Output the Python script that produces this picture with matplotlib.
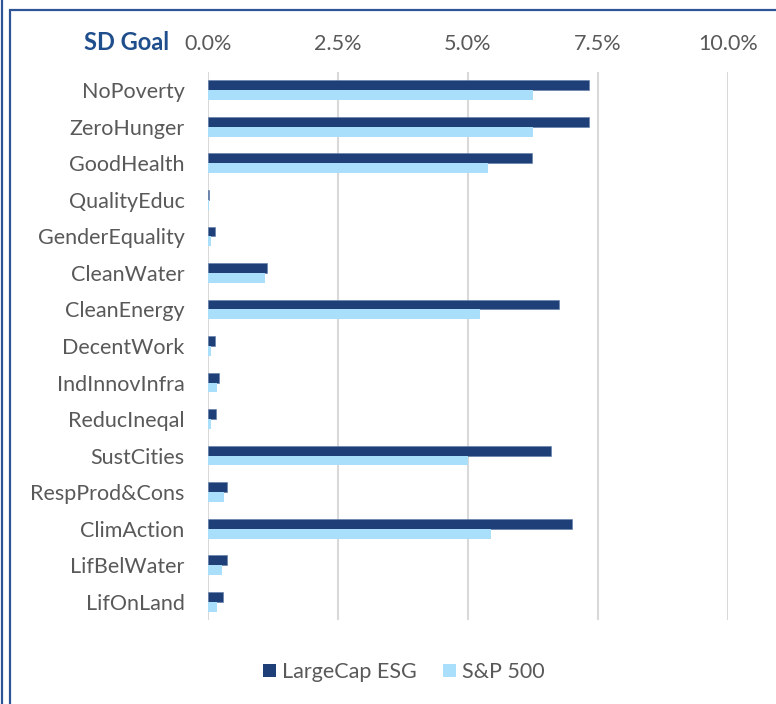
import matplotlib
matplotlib.use("Agg")
import matplotlib.pyplot as plt
from matplotlib.patches import Rectangle, Patch
from matplotlib.lines import Line2D
from matplotlib.ticker import FuncFormatter
import numpy as np

plt.rcParams['font.family'] = ['Lato', 'DejaVu Sans']

categories = ["NoPoverty", "ZeroHunger", "GoodHealth", "QualityEduc", "GenderEquality",
              "CleanWater", "CleanEnergy", "DecentWork", "IndInnovInfra", "ReducIneqal",
              "SustCities", "RespProd&Cons", "ClimAction", "LifBelWater", "LifOnLand"]
largecap_esg = [7.33, 7.33, 6.23, 0.02, 0.13, 1.13, 6.75, 0.13, 0.22, 0.16, 6.60, 0.37, 7.00, 0.37, 0.29]
sp500 = [6.25, 6.25, 5.38, 0.01, 0.06, 1.10, 5.23, 0.06, 0.17, 0.06, 5.00, 0.31, 5.44, 0.27, 0.17]
series_names = ["LargeCap ESG", "S&P 500"]
xticks = [0, 2.5, 5.0, 7.5, 10.0]

dark = '#1F3F78'
light = '#AADFFB'
grey_text = '#595959'

W, H = 776, 704
fig = plt.figure(figsize=(W / 100, H / 100), dpi=100)
ax = fig.add_axes([208 / W, 1 - 620 / H, (728 - 208) / W, (620 - 72) / H])

y = np.arange(len(categories))
h = 0.27
ax.barh(y - h / 2, largecap_esg, height=h, color=dark, edgecolor='#5F7BAA', linewidth=0.4, zorder=3)
ax.barh(y + h / 2, sp500, height=h, color=light, edgecolor='none', zorder=3)

ax.set_ylim(len(categories) - 0.5, -0.5)
ax.set_xlim(0, 10.0)
ax.set_xticks(xticks)
ax.xaxis.set_major_formatter(FuncFormatter(lambda v, p: f"{v:.1f}%"))
ax.xaxis.tick_top()
ax.tick_params(axis='x', length=0, pad=13, labelsize=15.5, labelcolor=grey_text)
ax.set_yticks(y)
ax.set_yticklabels(categories)
ax.tick_params(axis='y', length=0, pad=17, labelsize=15.5, labelcolor=grey_text)
ax.grid(axis='x', color='#D9D9D9', linewidth=1.5, zorder=0)
for s in ax.spines.values():
    s.set_visible(False)

fig.text(127 / W, 1 - 42 / H, "SD Goal", ha='center', va='center', fontsize=17,
         fontweight='bold', color='#1F4E8C')

handles = [Patch(facecolor=dark, edgecolor='none'), Patch(facecolor=light, edgecolor='none')]
fig.legend(handles, series_names, loc='center', bbox_to_anchor=(404 / W, 1 - 672 / H), ncol=2,
           frameon=False, fontsize=15.5, handlelength=0.6, handleheight=0.6, handletextpad=0.3,
           columnspacing=1.2, labelcolor=grey_text)

# frame
fig.patches.append(Rectangle((10 / W, -0.05), 1.0, 1 - 10 / H + 0.05, transform=fig.transFigure,
                             fill=False, edgecolor='#2F5597', linewidth=1.6))
fig.lines.append(Line2D([2 / W, 2 / W], [0, 1], transform=fig.transFigure, color='#2F5597', linewidth=1.6))

fig.savefig("out.png", dpi=100, facecolor='white')
